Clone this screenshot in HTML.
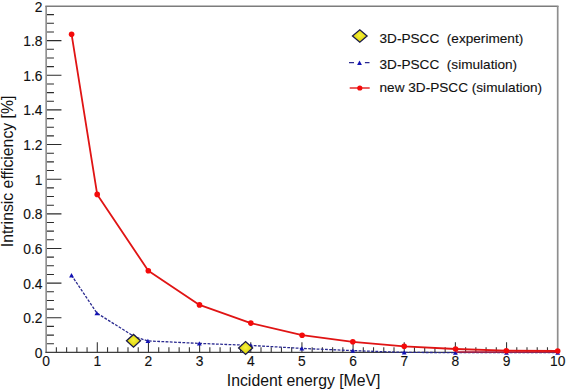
<!DOCTYPE html>
<html><head><meta charset="utf-8"><style>
html,body{margin:0;padding:0;background:#fff;}
svg{display:block;}
text{font-family:"Liberation Sans",sans-serif;fill:#111;stroke:#111;stroke-width:0.12px;}
.l{font-size:13.8px;}
.g{font-size:13.62px;white-space:pre;}
.t{font-size:15.8px;stroke-width:0;}
</style></head><body>
<svg width="566" height="390" viewBox="0 0 566 390" xml:space="preserve">
<defs><radialGradient id="yg" cx="0.5" cy="0.45" r="0.6"><stop offset="0" stop-color="#f8f23c"/><stop offset="1" stop-color="#d4cc00"/></radialGradient></defs>
<rect width="566" height="390" fill="#fff"/>
<path d="M46.15,352.4V6.0" stroke="#8c8c8c" stroke-width="1.6" fill="none"/>
<path d="M45.35,6.2H558.5" stroke="#7c7c7c" stroke-width="1.35" fill="none"/>
<path d="M557.7,6.0V352.4" stroke="#8e8e8e" stroke-width="1.7" fill="none"/>
<path d="M45.35,352.4H558.5" stroke="#3e3e3e" stroke-width="1.15" fill="none"/>
<path d="M46.949999999999996,343.74h7.0M46.949999999999996,335.08h7.0M46.949999999999996,326.42h7.0M46.949999999999996,317.76h14.5M46.949999999999996,309.10h7.0M46.949999999999996,300.44h7.0M46.949999999999996,291.78h7.0M46.949999999999996,283.12h14.5M46.949999999999996,274.46h7.0M46.949999999999996,265.80h7.0M46.949999999999996,257.14h7.0M46.949999999999996,248.48h14.5M46.949999999999996,239.82h7.0M46.949999999999996,231.16h7.0M46.949999999999996,222.50h7.0M46.949999999999996,213.84h14.5M46.949999999999996,205.18h7.0M46.949999999999996,196.52h7.0M46.949999999999996,187.86h7.0M46.949999999999996,179.20h14.5M46.949999999999996,170.54h7.0M46.949999999999996,161.88h7.0M46.949999999999996,153.22h7.0M46.949999999999996,144.56h14.5M46.949999999999996,135.90h7.0M46.949999999999996,127.24h7.0M46.949999999999996,118.58h7.0M46.949999999999996,109.92h14.5M46.949999999999996,101.26h7.0M46.949999999999996,92.60h7.0M46.949999999999996,83.94h7.0M46.949999999999996,75.28h14.5M46.949999999999996,66.62h7.0M46.949999999999996,57.96h7.0M46.949999999999996,49.30h7.0M46.949999999999996,40.64h14.5M46.949999999999996,31.98h7.0M46.949999999999996,23.32h7.0M46.949999999999996,14.66h7.0" stroke="#2c2c2c" stroke-width="1.1" fill="none"/>
<path d="M56.38,352.4v-5.2M66.61,352.4v-5.2M76.84,352.4v-5.2M87.07,352.4v-5.2M97.31,352.4v-10.2M107.54,352.4v-5.2M117.77,352.4v-5.2M128.00,352.4v-5.2M138.23,352.4v-5.2M148.46,352.4v-10.2M158.69,352.4v-5.2M168.92,352.4v-5.2M179.15,352.4v-5.2M189.38,352.4v-5.2M199.62,352.4v-10.2M209.85,352.4v-5.2M220.08,352.4v-5.2M230.31,352.4v-5.2M240.54,352.4v-5.2M250.77,352.4v-10.2M261.00,352.4v-5.2M271.23,352.4v-5.2M281.46,352.4v-5.2M291.69,352.4v-5.2M301.93,352.4v-10.2M312.16,352.4v-5.2M322.39,352.4v-5.2M332.62,352.4v-5.2M342.85,352.4v-5.2M353.08,352.4v-10.2M363.31,352.4v-5.2M373.54,352.4v-5.2M383.77,352.4v-5.2M394.00,352.4v-5.2M404.24,352.4v-10.2M414.47,352.4v-5.2M424.70,352.4v-5.2M434.93,352.4v-5.2M445.16,352.4v-5.2M455.39,352.4v-10.2M465.62,352.4v-5.2M475.85,352.4v-5.2M486.08,352.4v-5.2M496.31,352.4v-5.2M506.55,352.4v-10.2M516.78,352.4v-5.2M527.01,352.4v-5.2M537.24,352.4v-5.2M547.47,352.4v-5.2" stroke="#383838" stroke-width="1.1" fill="none"/>
<text x="42.4" y="357.90" text-anchor="end" class="l">0</text>
<text x="42.4" y="323.26" text-anchor="end" class="l">0.2</text>
<text x="42.4" y="288.62" text-anchor="end" class="l">0.4</text>
<text x="42.4" y="253.98" text-anchor="end" class="l">0.6</text>
<text x="42.4" y="219.34" text-anchor="end" class="l">0.8</text>
<text x="42.4" y="184.70" text-anchor="end" class="l">1</text>
<text x="42.4" y="150.06" text-anchor="end" class="l">1.2</text>
<text x="42.4" y="115.42" text-anchor="end" class="l">1.4</text>
<text x="42.4" y="80.78" text-anchor="end" class="l">1.6</text>
<text x="42.4" y="46.14" text-anchor="end" class="l">1.8</text>
<text x="42.4" y="11.50" text-anchor="end" class="l">2</text>
<text x="46.15" y="366.2" text-anchor="middle" class="l">0</text>
<text x="97.31" y="366.2" text-anchor="middle" class="l">1</text>
<text x="148.46" y="366.2" text-anchor="middle" class="l">2</text>
<text x="199.62" y="366.2" text-anchor="middle" class="l">3</text>
<text x="250.77" y="366.2" text-anchor="middle" class="l">4</text>
<text x="301.93" y="366.2" text-anchor="middle" class="l">5</text>
<text x="353.08" y="366.2" text-anchor="middle" class="l">6</text>
<text x="404.24" y="366.2" text-anchor="middle" class="l">7</text>
<text x="455.39" y="366.2" text-anchor="middle" class="l">8</text>
<text x="506.55" y="366.2" text-anchor="middle" class="l">9</text>
<text x="557.70" y="366.2" text-anchor="middle" class="l">10</text>
<text x="226.8" y="386" class="t">Incident energy [MeV]</text>
<text transform="translate(12.7,247.2) rotate(-90)" x="0" y="0" class="t">Intrinsic efficiency [%]</text>
<polyline points="71.50,275.20 96.90,313.10 134.80,336.90 147.90,340.90 199.30,343.40 250.80,345.40 301.90,348.40 352.80,350.60 404.20,352.40 455.40,352.60 506.50,352.60 557.70,352.60" fill="none" stroke="#2a2a90" stroke-width="1.3" stroke-dasharray="2.8 1.4"/>
<path d="M69.10,277.41L73.90,277.41L71.50,272.99Z" fill="#1212b4"/>
<path d="M94.50,315.31L99.30,315.31L96.90,310.89Z" fill="#1212b4"/>
<path d="M132.40,339.11L137.20,339.11L134.80,334.69Z" fill="#1212b4"/>
<path d="M145.50,343.11L150.30,343.11L147.90,338.69Z" fill="#1212b4"/>
<path d="M196.90,345.61L201.70,345.61L199.30,341.19Z" fill="#1212b4"/>
<path d="M248.40,347.61L253.20,347.61L250.80,343.19Z" fill="#1212b4"/>
<path d="M299.50,350.61L304.30,350.61L301.90,346.19Z" fill="#1212b4"/>
<path d="M350.40,352.81L355.20,352.81L352.80,348.39Z" fill="#1212b4"/>
<path d="M401.80,354.61L406.60,354.61L404.20,350.19Z" fill="#1212b4"/>
<path d="M453.00,354.81L457.80,354.81L455.40,350.39Z" fill="#1212b4"/>
<path d="M504.10,354.81L508.90,354.81L506.50,350.39Z" fill="#1212b4"/>
<path d="M555.30,354.81L560.10,354.81L557.70,350.39Z" fill="#1212b4"/>
<path d="M456,351.9H558" stroke="#b81c3c" stroke-width="1.5" fill="none"/>
<polyline points="71.60,34.30 97.20,194.40 148.30,270.80 199.50,304.90 250.80,323.10 302.10,335.20 352.80,341.80 404.20,346.30 455.60,349.00 506.30,350.70 557.70,351.00" fill="none" stroke="#e01414" stroke-width="1.8" stroke-linejoin="round"/>
<circle cx="71.60" cy="34.30" r="2.8" fill="#f40a0a"/>
<circle cx="97.20" cy="194.40" r="2.8" fill="#f40a0a"/>
<circle cx="148.30" cy="270.80" r="2.8" fill="#f40a0a"/>
<circle cx="199.50" cy="304.90" r="2.8" fill="#f40a0a"/>
<circle cx="250.80" cy="323.10" r="2.8" fill="#f40a0a"/>
<circle cx="302.10" cy="335.20" r="2.8" fill="#f40a0a"/>
<circle cx="352.80" cy="341.80" r="2.8" fill="#f40a0a"/>
<circle cx="404.20" cy="346.30" r="2.8" fill="#f40a0a"/>
<circle cx="455.60" cy="349.00" r="2.8" fill="#f40a0a"/>
<circle cx="506.30" cy="350.70" r="2.8" fill="#f40a0a"/>
<circle cx="557.70" cy="351.00" r="2.8" fill="#f40a0a"/>
<path d="M126.50,340.80L133.50,334.40L140.50,340.80L133.50,347.20Z" fill="url(#yg)" stroke="#1a1a48" stroke-width="1.3" stroke-linejoin="miter"/>
<path d="M238.60,348.00L245.60,341.60L252.60,348.00L245.60,354.40Z" fill="url(#yg)" stroke="#1a1a48" stroke-width="1.3" stroke-linejoin="miter"/>
<path d="M352.50,36.00L359.80,29.80L367.10,36.00L359.80,42.20Z" fill="url(#yg)" stroke="#1a1a48" stroke-width="1.3" stroke-linejoin="miter"/>
<path d="M349.0,62.6h5.0M364.9,62.6h4.6" stroke="#2a2a90" stroke-width="1.4"/>
<path d="M357.10,65.01L361.90,65.01L359.50,60.59Z" fill="#1212b4"/>
<path d="M349.7,88h20" stroke="#e42a2a" stroke-width="1.5"/>
<circle cx="359.8" cy="88" r="2.6" fill="#f40a0a"/>
<text x="379.5" y="42.6" class="g">3D-PSCC  (experiment)</text>
<text x="379.5" y="69.3" class="g">3D-PSCC  (simulation)</text>
<text x="379.5" y="91.8" class="g">new 3D-PSCC (simulation)</text>
</svg>
</body></html>
